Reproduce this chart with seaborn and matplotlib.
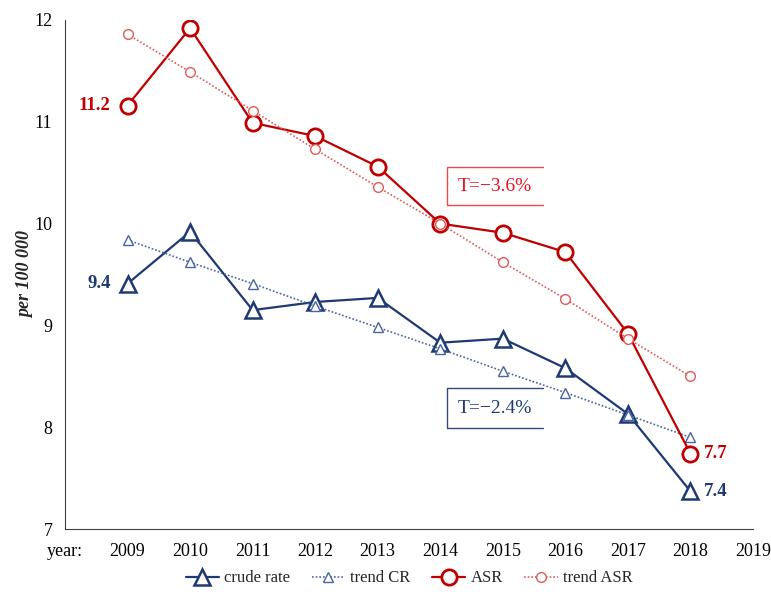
import matplotlib
matplotlib.use("Agg")
import matplotlib.pyplot as plt
import seaborn as sns

years = [2009, 2010, 2011, 2012, 2013, 2014, 2015, 2016, 2017, 2018]
crude_rate = [9.41, 9.92, 9.15, 9.23, 9.27, 8.83, 8.87, 8.58, 8.13, 7.37]
trend_cr = [9.84, 9.62, 9.41, 9.19, 8.98, 8.77, 8.55, 8.34, 8.12, 7.90]
asr = [11.16, 11.92, 10.99, 10.86, 10.56, 10.00, 9.91, 9.72, 8.92, 7.74]
trend_asr = [11.86, 11.49, 11.11, 10.73, 10.36, 10.00, 9.62, 9.26, 8.87, 8.50]
xtick_vals = list(range(2008, 2020))
xtick_labels = ["year:"] + [str(y) for y in range(2009, 2020)]

sns.set_style("white")
plt.rcParams['font.family'] = ['Liberation Serif', 'DejaVu Serif']

RED = "#C00000"
RED_T = "#E05A5A"
BLUE = "#1F3A73"
BLUE_T = "#4A64A0"

fig = plt.figure(figsize=(7.71, 5.97), dpi=100)
ax = fig.add_axes([0.0843, 0.1139, 0.8924, 0.8526])

sns.lineplot(x=years, y=crude_rate, ax=ax, color=BLUE, lw=1.6, marker='^',
             ms=12, mfc='white', mec=BLUE, mew=1.8, label="crude rate")
sns.lineplot(x=years, y=trend_cr, ax=ax, color=BLUE_T, lw=1.2, ls=(0, (1, 1.2)),
             marker='^', ms=7.5, mfc='white', mec=BLUE_T, mew=1.0, label="trend CR")
sns.lineplot(x=years, y=asr, ax=ax, color=RED, lw=1.6, marker='o',
             ms=11, mfc='white', mec=RED, mew=2.0, label="ASR")
sns.lineplot(x=years, y=trend_asr, ax=ax, color=RED_T, lw=1.2, ls=(0, (1, 1.2)),
             marker='o', ms=7, mfc='white', mec=RED_T, mew=1.0, label="trend ASR")

ax.set_xlim(2008, 2019)
ax.set_ylim(7, 12)
ax.set_xticks(xtick_vals)
ax.set_xticklabels(xtick_labels)
ax.set_yticks([7, 8, 9, 10, 11, 12])
ax.tick_params(axis='both', direction='out', length=5, width=0.8, colors='#404040',
               labelsize=13, labelcolor='black', pad=4)
ax.tick_params(axis='x', pad=5)
for s in ['top', 'right']:
    ax.spines[s].set_visible(False)
for s in ['left', 'bottom']:
    ax.spines[s].set_color('#404040')
    ax.spines[s].set_linewidth(0.8)

ax.set_ylabel("per 100 000", fontsize=13, fontweight='bold', style='italic', labelpad=0)
ax.set_xlabel("")

# value labels
lab_kw = dict(fontsize=13.5, fontweight='bold', va='center')
ax.text(years[0] - 0.27, asr[0], f"{asr[0]:.1f}", color=RED, ha='right', **lab_kw)
ax.text(years[0] - 0.27, crude_rate[0], f"{crude_rate[0]:.1f}", color=BLUE, ha='right', **lab_kw)
ax.text(years[-1] + 0.22, asr[-1], f"{asr[-1]:.1f}", color=RED, ha='left', **lab_kw)
ax.text(years[-1] + 0.22, crude_rate[-1], f"{crude_rate[-1]:.1f}", color=BLUE, ha='left', **lab_kw)

# trend boxes (right side left open, as in the original)
def trend_box(x0, x1, y0, y1, text, color, edge):
    ax.plot([x1, x0, x0, x1], [y1, y1, y0, y0], color=edge, lw=1.0)
    ax.text((x0 + x1) / 2, (y0 + y1) / 2, text, color=color, fontsize=14,
            ha='center', va='center')

trend_box(2014.11, 2015.64, 10.18, 10.556, "T=\u22123.6%", "#E8141E", "#F04848")
trend_box(2014.11, 2015.64, 7.99, 8.385, "T=\u22122.4%", BLUE, "#2F4A80")

leg = ax.legend(loc='center', bbox_to_anchor=(0.5, -0.097), ncol=4, frameon=False,
                fontsize=12, handlelength=2.0, handletextpad=0.3, columnspacing=1.3)

fig.savefig("out.png", dpi=100)
